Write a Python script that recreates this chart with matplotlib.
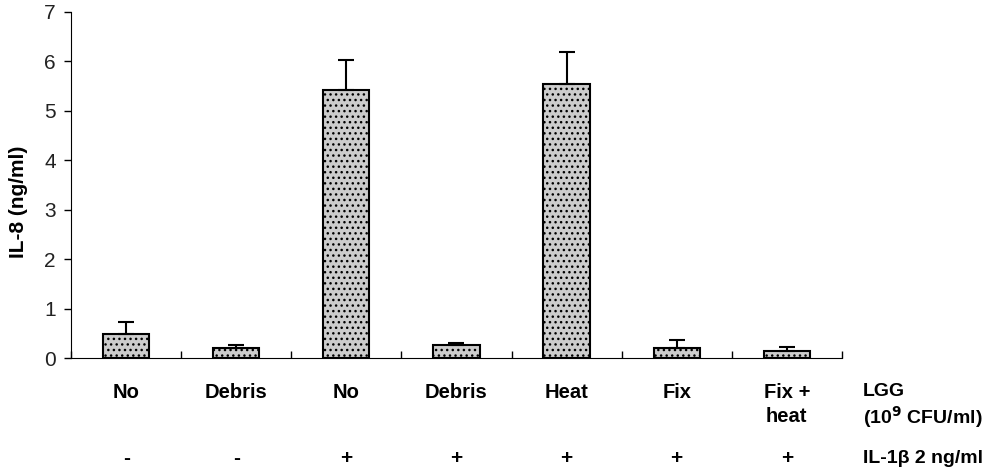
import numpy as np
import matplotlib.pyplot as plt

plt.rcParams['font.family'] = ['Liberation Sans', 'DejaVu Sans']
plt.rcParams['hatch.color'] = '#444444'
plt.rcParams['hatch.linewidth'] = 1.0

lgg_labels = ["No", "Debris", "No", "Debris", "Heat", "Fix", "Fix +\nheat"]
il1_labels = ["-", "-", "+", "+", "+", "+", "+"]
means = [0.49, 0.20, 5.42, 0.27, 5.55, 0.20, 0.15]
errs = [0.24, 0.07, 0.61, 0.04, 0.64, 0.16, 0.08]


def main():
    fig = plt.figure(figsize=(10.01, 4.73), dpi=100)
    ax = fig.add_axes([0.071, 0.243, 0.77, 0.732])

    x = np.arange(len(means))
    ax.bar(x, means, width=0.42, color='#cccccc', edgecolor='black',
           linewidth=1.5, hatch='...', zorder=2)
    ax.errorbar(x, means, yerr=[np.zeros(len(errs)), errs], fmt='none',
                ecolor='black', elinewidth=1.5, capsize=5.5, capthick=1.5, zorder=3)

    ax.set_xlim(-0.5, len(means) - 0.5)
    ax.set_ylim(0, 7)
    ax.set_yticks(range(8))
    ax.tick_params(axis='y', direction='out', length=5, width=1, labelsize=15,
                   labelcolor='#222222', pad=6)
    ax.set_xticks(np.arange(len(means) + 1) - 0.5)
    ax.set_xticklabels([])
    ax.tick_params(axis='x', direction='in', length=5, width=1)
    for s in ['top', 'right']:
        ax.spines[s].set_visible(False)

    ax.set_ylabel("IL-8 (ng/ml)", fontsize=15, fontweight='bold')
    ax.yaxis.set_label_coords(-0.056, 0.45)

    trans = ax.get_xaxis_transform()
    for i in range(len(means)):
        ax.annotate(lgg_labels[i], (i, 0), xycoords=trans, xytext=(0, -18),
                    textcoords='offset points', ha='center', va='top',
                    fontsize=14.5, fontweight='bold', linespacing=1.3)
        ax.annotate(il1_labels[i], (i, 0), xycoords=trans, xytext=(0, -72),
                    textcoords='offset points', ha='center', va='center',
                    fontsize=15, fontweight='bold')

    ax.annotate("LGG\n(10$^{\\mathbf{9}}$ CFU/ml)", (1, 0), xycoords='axes fraction',
                xytext=(15, -18), textcoords='offset points', ha='left', va='top',
                fontsize=14, fontweight='bold', linespacing=1.2)
    ax.annotate("IL-1β 2 ng/ml", (1, 0), xycoords='axes fraction',
                xytext=(15, -72), textcoords='offset points', ha='left', va='center',
                fontsize=14, fontweight='bold')

    fig.savefig("out.png", dpi=100)


if __name__ == "__main__":
    main()
